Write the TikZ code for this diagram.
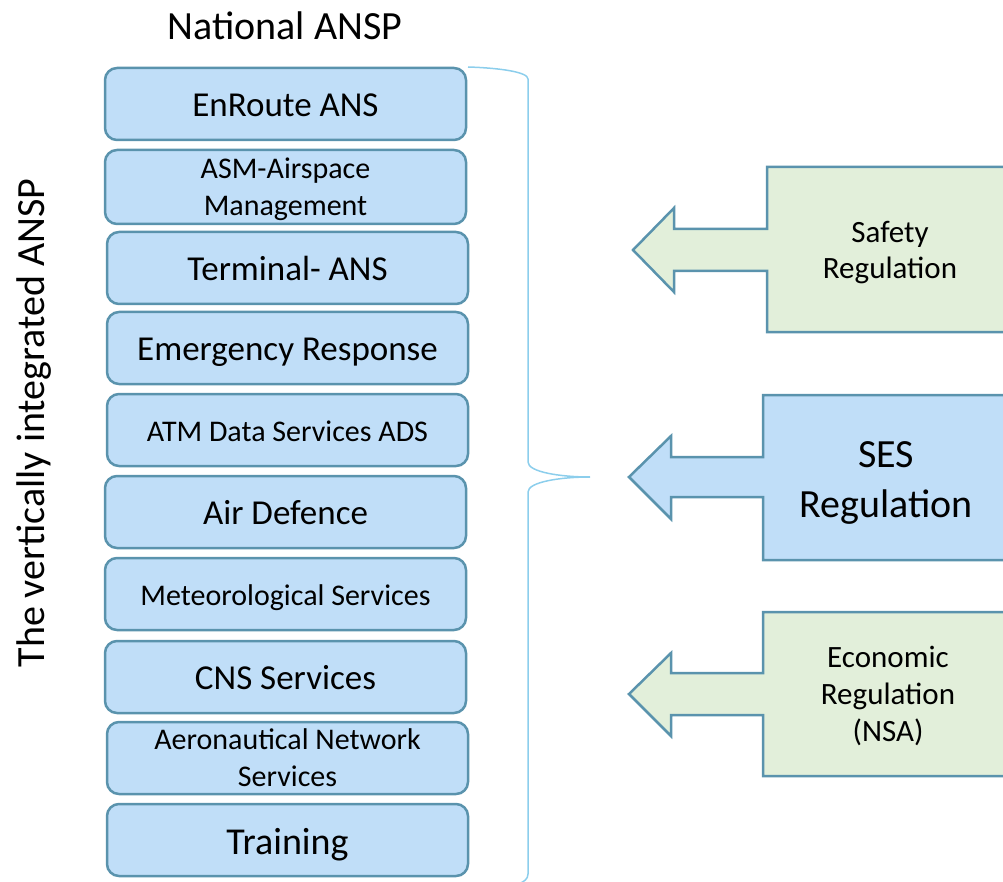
\documentclass[tikz,border=0pt]{standalone}
\usepackage{fontspec}
\setmainfont{Carlito}
\definecolor{boxfill}{RGB}{192,222,248}
\definecolor{boxline}{RGB}{90,147,173}
\definecolor{greenfill}{RGB}{226,239,218}
\definecolor{bracecol}{RGB}{140,206,236}
\tikzset{
  stackbox/.style={draw=boxline, fill=boxfill, line width=2.5pt, rounded corners=12pt,
    minimum width=361pt, minimum height=72pt, inner sep=0pt},
  twoline/.style={align=center},
  bigtxt/.style={font=\fontsize{35}{42}\selectfont, text height=29.75pt, text depth=3.85pt},
  smalltxt/.style={font=\fontsize{30}{37}\selectfont},
  smallone/.style={font=\fontsize{30}{37}\selectfont, text height=25.5pt, text depth=3.3pt},
  hugetxt/.style={font=\fontsize{38}{45}\selectfont, text height=32.3pt, text depth=4.2pt},
  callout/.style={draw=boxline, line width=2.5pt, line join=miter},
  calltxt/.style={align=center, inner sep=0pt},
}
\begin{document}
\begin{tikzpicture}[x=1pt,y=-1pt]
\useasboundingbox (0,0) rectangle (1003,882);
\clip (0,0) rectangle (1003,882);
\node[font=\fontsize{40}{46}\selectfont] (title) at (285,26) {National ANSP};
\node[font=\fontsize{40}{46}\selectfont, rotate=90] (side) at (34,423) {The vertically integrated ANSP};

\node[stackbox, bigtxt] (b1) at (285.5,104) {EnRoute ANS};
\node[stackbox, smalltxt] (b2) at (285.5,187) {\raisebox{-3pt}[\height][\depth]{\begin{tabular}{@{}c@{}}ASM-Airspace\\Management\end{tabular}}};
\node[stackbox, bigtxt] (b3) at (287.5,268) {Terminal- ANS};
\node[stackbox, bigtxt] (b4) at (287.5,348) {Emergency Response};
\node[stackbox, smallone] (b5) at (287.5,430) {ATM Data Services ADS};
\node[stackbox, bigtxt] (b6) at (285.5,512) {Air Defence};
\node[stackbox, smallone] (b7) at (285.5,594) {Meteorological Services};
\node[stackbox, bigtxt] (b8) at (285.5,677) {CNS Services};
\node[stackbox, smalltxt, twoline] (b9) at (287.5,758) {Aeronautical Network\\Services};
\node[stackbox, hugetxt] (b10) at (287.5,840) {Training};

% brace
\draw[bracecol, line width=1.5pt]
  (468,67) .. controls (500,68) and (528,72) .. (528,79)
  -- (528,462) .. controls (528,472) and (560,477) .. (590,477)
  .. controls (560,477) and (528,482) .. (528,492)
  -- (528,874) .. controls (528,879) and (524,882) .. (518,884);

% Safety regulation
\draw[callout, fill=greenfill] (1012,167) -- (767,167) -- (767,229) -- (674,229) -- (674,208)
  -- (633,250) -- (674,292) -- (674,271) -- (767,271) -- (767,332) -- (1012,332);
\node[calltxt, font=\fontsize{31}{36}\selectfont] (safety) at (890,253) {Safety\\Regulation};

% SES regulation
\draw[callout, fill=boxfill] (1012,395) -- (763,395) -- (763,457) -- (671,457) -- (671,436)
  -- (629,477) -- (671,519) -- (671,497) -- (763,497) -- (763,560) -- (1012,560);
\node[calltxt, font=\fontsize{40}{50}\selectfont] (ses) at (886,483) {SES\\Regulation};

% Economic regulation
\draw[callout, fill=greenfill] (1012,612) -- (763,612) -- (763,673) -- (671,673) -- (671,653)
  -- (629,694) -- (671,736) -- (671,715) -- (763,715) -- (763,776) -- (1012,776);
\node[calltxt, font=\fontsize{31}{37}\selectfont] (econ) at (888,696) {Economic\\Regulation\\(NSA)};
\end{tikzpicture}
\end{document}
